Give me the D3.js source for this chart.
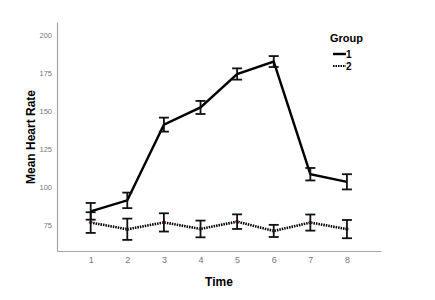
<!DOCTYPE html>
<html>
<head>
    <title>Mean Heart Rate by Time</title>
    <script src="https://d3js.org/d3.v7.min.js"></script>
    <style>
        body { margin: 0; background: #fff; }
        text { font-family: "Liberation Sans", Arial, sans-serif; }
    </style>
</head>
<body>
    <script>
        // data
        var times = [1, 2, 3, 4, 5, 6, 7, 8];
        var group1Mean = [84, 91.2, 141, 152.3, 174.3, 182.5, 108.4, 103.4];
        var group1Err  = [5.5, 5.1, 4.6, 4.3, 3.7, 3.6, 4.1, 5];
        var group2Mean = [76.6, 72.2, 76.7, 72.4, 77.2, 71.1, 76.6, 72.3];
        var group2Err  = [6.8, 7, 6, 5.5, 4.8, 4, 5.3, 6];
        var yTicks = [75, 100, 125, 150, 175, 200];
        var groups = ["1", "2"];

        var width = 435, height = 300;
        var plotLeft = 57, plotRight = 381, plotTop = 22, plotBottom = 251;

        var svg = d3.select("body")
                    .append("svg")
                    .attr("width", width)
                    .attr("height", height);

        var x = d3.scaleLinear().domain([0.08, 8.93]).range([plotLeft, plotRight]);
        var y = d3.scaleLinear().domain([57.9, 208.5]).range([plotBottom, plotTop]);

        // axes
        var yAxis = svg.append("g")
                       .attr("transform", "translate(" + plotLeft + ",0)")
                       .call(d3.axisLeft(y).tickValues(yTicks).tickSize(0).tickPadding(5));
        yAxis.select(".domain").attr("stroke", "#a6a6a6").attr("stroke-width", 1.2);
        yAxis.selectAll("text").attr("fill", "#777").attr("font-size", 7.5)
             .style("font-family", "'Liberation Sans', Arial, sans-serif");

        var xAxis = svg.append("g")
                       .attr("transform", "translate(0," + plotBottom + ")")
                       .call(d3.axisBottom(x).tickValues(times).tickFormat(d3.format("d")).tickSize(0).tickPadding(6));
        xAxis.select(".domain").attr("stroke", "#a6a6a6").attr("stroke-width", 1.2);
        xAxis.selectAll("text").attr("fill", "#777").attr("font-size", 9)
             .style("font-family", "'Liberation Sans', Arial, sans-serif");

        // axis titles
        svg.append("text")
           .attr("x", 219).attr("y", 286)
           .attr("text-anchor", "middle")
           .attr("font-weight", "bold").attr("font-size", 12)
           .text("Time");

        svg.append("text")
           .attr("transform", "translate(35,137) rotate(-90)")
           .attr("text-anchor", "middle")
           .attr("font-weight", "bold").attr("font-size", 12)
           .text("Mean Heart Rate");

        var series = [
            {mean: group1Mean, err: group1Err, dash: null},
            {mean: group2Mean, err: group2Err, dash: "1.5,1"}
        ];

        var line = d3.line()
                     .x((d, i) => x(times[i]))
                     .y(d => y(d));

        series.forEach(function(s, k) {
            var g = svg.append("g");

            g.append("path")
             .datum(s.mean)
             .attr("d", line)
             .attr("fill", "none")
             .attr("stroke", "#000")
             .attr("stroke-width", k === 0 ? 2.4 : 2.6)
             .attr("stroke-dasharray", s.dash);

            if (k === 1) {
                g.selectAll("circle")
                 .data(s.mean)
                 .join("circle")
                 .attr("cx", (d, i) => x(times[i]))
                 .attr("cy", d => y(d))
                 .attr("r", 1.8)
                 .attr("fill", "#8a3a4a");
            }

            var bars = g.selectAll(".err")
                        .data(s.mean)
                        .join("g")
                        .attr("class", "err");

            bars.append("line")
                .attr("x1", (d, i) => x(times[i]))
                .attr("x2", (d, i) => x(times[i]))
                .attr("y1", (d, i) => y(d + s.err[i]))
                .attr("y2", (d, i) => y(d - s.err[i]))
                .attr("stroke", "#111").attr("stroke-width", 1.8);

            [1, -1].forEach(function(sign) {
                bars.append("line")
                    .attr("x1", (d, i) => x(times[i]) - 5)
                    .attr("x2", (d, i) => x(times[i]) + 5)
                    .attr("y1", (d, i) => y(d + sign * s.err[i]))
                    .attr("y2", (d, i) => y(d + sign * s.err[i]))
                    .attr("stroke", "#111").attr("stroke-width", 1.8);
            });
        });

        // legend
        var legend = svg.append("g");
        legend.append("text")
              .attr("x", 330).attr("y", 42)
              .attr("font-weight", "bold").attr("font-size", 11)
              .text("Group");

        var items = legend.selectAll(".item")
                          .data(groups)
                          .join("g")
                          .attr("class", "item")
                          .attr("transform", (d, i) => "translate(333," + (54 + i * 12) + ")");

        items.append("line")
             .attr("x1", 0).attr("x2", 13)
             .attr("stroke", "#000")
             .attr("stroke-width", (d, i) => i === 0 ? 2.4 : 2.2)
             .attr("stroke-dasharray", (d, i) => i === 0 ? null : "1.5,1");

        items.append("text")
             .attr("x", 13).attr("y", 4)
             .attr("font-weight", "bold").attr("font-size", 10)
             .text(d => d);
    </script>
</body>
</html>
